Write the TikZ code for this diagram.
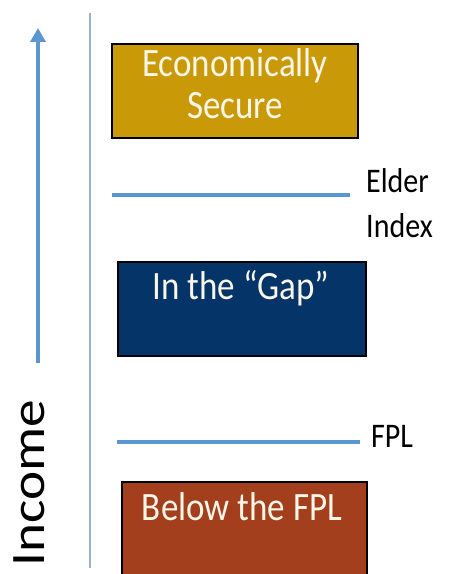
\documentclass[tikz,border=0pt]{standalone}
\usepackage{fontspec}
\setmainfont{Carlito}
\usetikzlibrary{arrows.meta}
\definecolor{goldbox}{RGB}{201,153,8}
\definecolor{navybox}{RGB}{4,52,104}
\definecolor{rustbox}{RGB}{164,63,30}
\definecolor{levelblue}{RGB}{91,150,208}
\definecolor{axisgray}{RGB}{160,176,196}
\definecolor{boxtxt}{RGB}{250,246,232}
\tikzset{
  x=1pt, y=1pt,
  band/.style={draw=black, line width=1.6pt, anchor=south west, inner sep=0pt},
  bandtext/.style={text=boxtxt, anchor=base, inner sep=0pt,
    font=\fontsize{35}{40}\selectfont},
  level/.style={draw=levelblue, line width=4.2pt},
  sidelabel/.style={anchor=base west, inner sep=0pt,
    font=\fontsize{30}{34}\selectfont},
}
\newcommand{\tallbox}[1]{\scalebox{1}[1.15]{#1}}
\begin{document}
\begin{tikzpicture}
\useasboundingbox (0,0) rectangle (450,574);
% income axis and divider
\coordinate (arrowfoot) at (38,211);
\coordinate (arrowtip) at (38,546);
\draw[levelblue, line width=3.8pt, -{Triangle[length=14pt,width=15pt]}] (arrowfoot) -- (arrowtip);
\coordinate (divtop) at (90,561);
\coordinate (divbot) at (90,6);
\draw[axisgray, line width=1.5pt] (divtop) -- (divbot);
\node[rotate=90, anchor=base, inner sep=0pt, font=\fontsize{48}{50}\selectfont] (income) at (44,91)
  {\scalebox{1.15}[1]{Income}};
% income bands
\node[band, fill=goldbox, minimum width=246pt, minimum height=94pt] (secure) at (111,435) {};
\node[bandtext] (securea) at (235,497) {\tallbox{Economically}};
\node[bandtext] (secureb) at (235,455) {\tallbox{Secure}};
\node[band, fill=navybox, minimum width=248pt, minimum height=94pt] (gap) at (117,217) {};
\node[bandtext] (gaptext) at (241,274) {\tallbox{In the “Gap”}};
\begin{scope}
\clip (0,0) rectangle (450,574);
\node[band, fill=rustbox, minimum width=245pt, minimum height=120pt] (below) at (121,-29) {};
\end{scope}
\node[bandtext] (belowtext) at (242,54) {\tallbox{Below the FPL}};
% threshold lines
\coordinate (elderL) at (112,379);
\coordinate (elderR) at (350,379);
\draw[level] (elderL) -- (elderR);
\node[sidelabel] (eldera) at (366,381) {\tallbox{Elder}};
\node[sidelabel] (elderb) at (366,336) {\tallbox{Index}};
\coordinate (fplL) at (117,132);
\coordinate (fplR) at (360,132);
\draw[level] (fplL) -- (fplR);
\node[sidelabel] (fpl) at (371,126) {\tallbox{FPL}};
\end{tikzpicture}
\end{document}
